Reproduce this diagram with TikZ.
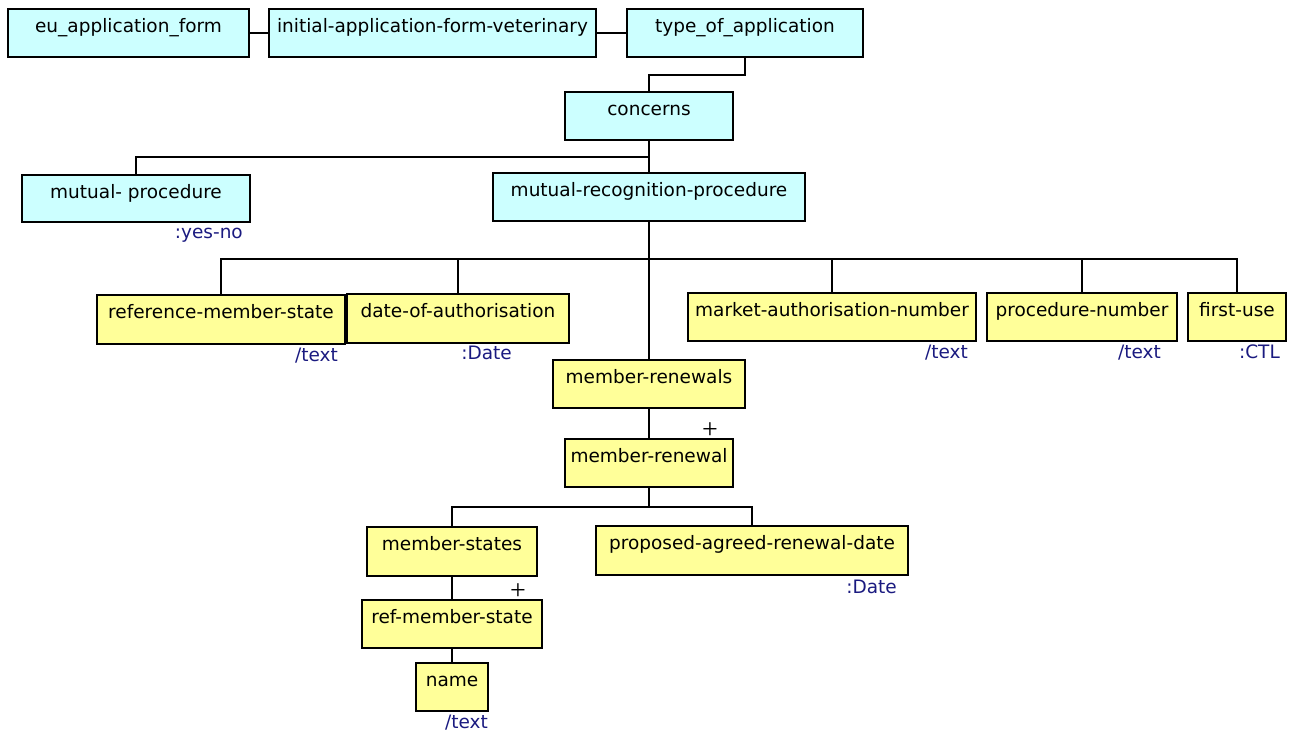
\documentclass[tikz,border=0pt]{standalone}
\usepackage{fontspec}
\setmainfont{DejaVu Sans}
\newfontfamily\plusfont{Liberation Serif}
\definecolor{cyanfill}{HTML}{CCFFFF}
\definecolor{yelfill}{HTML}{FFFF99}
\definecolor{typecol}{HTML}{1A1A80}
\tikzset{
  base/.style={draw=black, line width=1.8pt, inner sep=0pt, outer sep=0pt, anchor=north west,
    text height=23pt, align=center, font=\fontsize{18.5}{20}\selectfont},
  cbox/.style={base, fill=cyanfill},
  ybox/.style={base, fill=yelfill},
  typ/.style={anchor=base east, inner sep=0pt, text=typecol, font=\fontsize{18.5}{20}\selectfont},
  plus/.style={inner sep=0pt, font=\plusfont\fontsize{28}{28}\selectfont},
  conn/.style={draw=black, line width=1.8pt}
}
\begin{document}
\begin{tikzpicture}[x=1pt,y=-1pt]
\useasboundingbox (0,0) rectangle (1295,731);
% top row
\node[cbox, minimum width=241pt, text depth=25pt] (eu) at (8,9) {eu\_application\_form};
\node[cbox, minimum width=327pt, text depth=25pt] (init) at (269,9) {initial-application-form-veterinary};
\node[cbox, minimum width=236pt, text depth=25pt] (toa) at (627,9) {type\_of\_application};
\node[cbox, minimum width=168pt, text depth=25pt] (conc) at (565,92) {concerns};
\node[cbox, minimum width=228pt, text depth=24pt] (mp) at (22,175) {mutual- procedure};
\node[cbox, minimum width=312pt, text depth=25pt] (mrp) at (493,173) {mutual-recognition-procedure};
% children of mrp
\node[ybox, minimum width=248pt, text depth=26pt] (rms) at (97,295) {reference-member-state};
\node[ybox, minimum width=222pt, text depth=26pt] (doa) at (347,294) {date-of-authorisation};
\node[ybox, minimum width=288pt, text depth=25pt] (man) at (688,293) {market-authorisation-number};
\node[ybox, minimum width=190pt, text depth=25pt] (pn) at (987,293) {procedure-number};
\node[ybox, minimum width=98pt, text depth=25pt] (fu) at (1188,293) {first-use};
\node[ybox, minimum width=192pt, text depth=25pt] (mrs) at (553,360) {member-renewals};
\node[ybox, minimum width=168pt, text depth=25pt] (mr) at (565,439) {member-renewal};
\node[ybox, minimum width=170pt, text depth=26pt] (ms) at (367,527) {member-states};
\node[ybox, minimum width=312pt, text depth=26pt] (pard) at (596,526) {proposed-agreed-renewal-date};
\node[ybox, minimum width=180pt, text depth=25pt] (refms) at (362,600) {ref-member-state};
\node[ybox, minimum width=72pt, text depth=25pt] (nm) at (416,663) {name};
% type labels
\node[typ] (t1) at (243,238) {:yes-no};
\node[typ] (t2) at (338,361) {/text};
\node[typ] (t3) at (512,359) {:Date};
\node[typ] (t4) at (968,358) {/text};
\node[typ] (t5) at (1161,358) {/text};
\node[typ] (t6) at (1280,358) {:CTL};
\node[typ] (t7) at (897,593) {:Date};
\node[typ] (t8) at (488,728) {/text};
% multiplicity marks
\node[plus] (p1) at (710,431) {+};
\node[plus] (p2) at (518,592) {+};
% connectors
\draw[conn] (eu.east) -- (init.west);
\draw[conn] (init.east) -- (toa.west);
\draw[conn] (toa.south) -- ++(0,18) -| (conc.north);
\draw[conn] (conc.south) -- (mrp.north);
\draw[conn] (conc.south) -- ++(0,17) -| (mp.north);
\coordinate (j1) at (649,259);
\draw[conn] (mrp.south) -- (j1);
\draw[conn] (j1) -| (rms.north);
\draw[conn] (j1) -| (doa.north);
\draw[conn] (j1) -| (man.north);
\draw[conn] (j1) -| (pn.north);
\draw[conn] (j1) -| (fu.north);
\draw[conn] (j1) -- (mrs.north);
\draw[conn] (mrs.south) -- (mr.north);
\coordinate (j2) at (649,507);
\draw[conn] (mr.south) -- (j2);
\draw[conn] (j2) -| (ms.north);
\draw[conn] (j2) -| (pard.north);
\draw[conn] (ms.south) -- (refms.north);
\draw[conn] (refms.south) -- (nm.north);
\end{tikzpicture}
\end{document}
